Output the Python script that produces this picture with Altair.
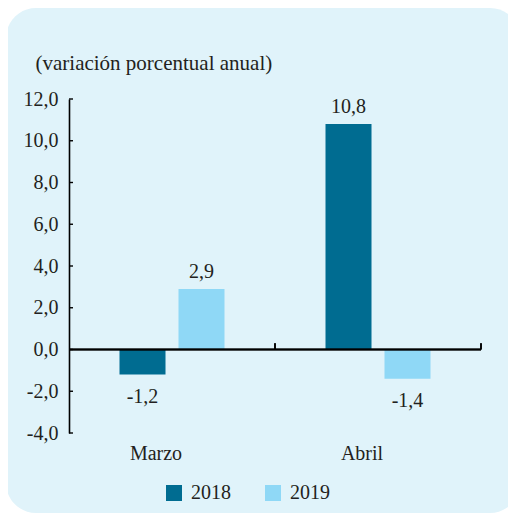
import altair as alt
import pandas as pd

months = ["Marzo", "Abril"]
series = ["2018", "2019"]
values_2018 = [-1.2, 10.8]
values_2019 = [2.9, -1.4]
y_ticks = [-4, -2, 0, 2, 4, 6, 8, 10, 12]
y_title = "(variación porcentual anual)"

rows = []
for i, m in enumerate(months):
    rows.append({"month": m, "series": "2018", "value": values_2018[i]})
    rows.append({"month": m, "series": "2019", "value": values_2019[i]})
df = pd.DataFrame(rows)
ticks_df = pd.DataFrame({"t": y_ticks})

FONT = "Liberation Serif"
TXT = "#231f20"
BG = "#e0f3fa"
W, H = 412, 334
PL, PT, PR, PB = 61, 91, 27, 81
FMT = "replace(replace(format(datum.value, '.1f'), '.', ','), '\u2212', '-')"

x_scale = alt.Scale(domain=months, paddingInner=0, paddingOuter=0)
y_scale = alt.Scale(domain=[-4, 12], nice=False, zero=False)
color_scale = alt.Scale(domain=series, range=["#006c91", "#8fd8f6"])

bg = alt.Chart(alt.Data(values=[{"a": 1}])).mark_rect(
    color=BG, cornerRadius=30, clip=False
).encode(
    x=alt.value(-PL - 2), x2=alt.value(W + PR + 12),
    y=alt.value(-PT), y2=alt.value(H + PB - 1)
)

base = alt.Chart(df)

bars = base.mark_bar().encode(
    x=alt.X("month:N", scale=x_scale, sort=months,
            axis=alt.Axis(title=None, domain=False, ticks=False, labelAngle=0,
                          labelPadding=10, labelOffset=-16, labelFont=FONT,
                          labelFontSize=20, labelColor=TXT, zindex=2)),
    xOffset=alt.XOffset("series:N", sort=series,
                        scale=alt.Scale(paddingInner=0.22, paddingOuter=0.856)),
    y=alt.Y("value:Q", scale=y_scale,
            axis=alt.Axis(title=y_title, titleAngle=0, titleAlign="left",
                          titleBaseline="alphabetic", titleX=-34, titleY=-30,
                          titleFont=FONT, titleFontSize=21, titleFontWeight="normal",
                          titleColor=TXT,
                          values=y_ticks, ticks=False, grid=False,
                          domainColor="black", domainWidth=1.6,
                          labelExpr=FMT,
                          labelPadding=11, labelFont=FONT, labelFontSize=20,
                          labelColor=TXT, zindex=2)),
    color=alt.Color("series:N", scale=color_scale, sort=series,
                    legend=alt.Legend(title=None, orient="none", direction="horizontal",
                                      legendX=95, legendY=384, symbolType="square",
                                      symbolSize=256, symbolStrokeWidth=0,
                                      labelFont=FONT, labelFontSize=20, labelColor=TXT,
                                      labelOffset=7, columnPadding=32, padding=0,
                                      zindex=2)),
)

zero = base.mark_rule(color="black", strokeWidth=1.6).encode(y=alt.datum(0))

xticks = base.mark_rule(color="black", strokeWidth=1.6).encode(
    x=alt.X("month:N", bandPosition=1, sort=months),
    y=alt.datum(0), y2=alt.datum(0.3)
)

yticks = alt.Chart(ticks_df).mark_rule(color="black", strokeWidth=1.4).encode(
    y=alt.Y("t:Q"), x=alt.value(0), x2=alt.value(4)
)

lab = base.transform_calculate(label=FMT)
pos_text = lab.transform_filter("datum.value >= 0").mark_text(
    font=FONT, fontSize=20, color=TXT, baseline="middle", dy=-17
).encode(
    x=alt.X("month:N", sort=months),
    xOffset=alt.XOffset("series:N", sort=series),
    y="value:Q", text="label:N"
)
neg_text = lab.transform_filter("datum.value < 0").mark_text(
    font=FONT, fontSize=20, color=TXT, baseline="middle", dy=22
).encode(
    x=alt.X("month:N", sort=months),
    xOffset=alt.XOffset("series:N", sort=series),
    y="value:Q", text="label:N"
)

chart = alt.layer(bg, bars, zero, xticks, yticks, pos_text, neg_text).properties(
    width=W, height=H,
    autosize=alt.AutoSizeParams(type="none"),
    padding={"left": PL, "top": PT, "right": PR, "bottom": PB},
).configure_view(stroke=None).configure(background="white")

chart.save("out.html", embed_options={"renderer": "svg", "actions": False})
